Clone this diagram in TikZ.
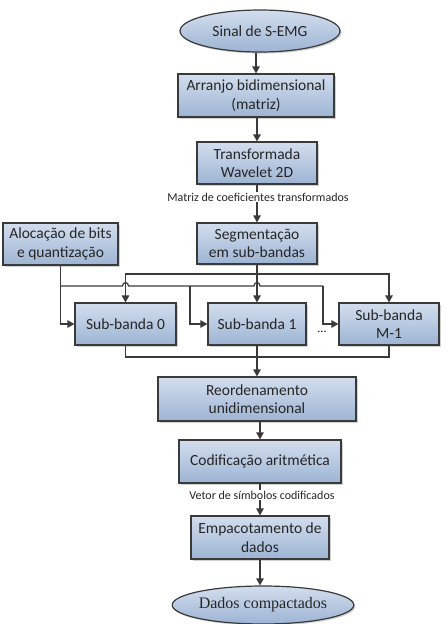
\documentclass[tikz,border=0pt]{standalone}
\usepackage{fontspec}
\setmainfont{Liberation Serif}
\setsansfont{Carlito}
\usetikzlibrary{arrows.meta,shapes.geometric,shadows}
\definecolor{boxtop}{HTML}{D3DEEE}
\definecolor{boxbot}{HTML}{9DB4D3}
\definecolor{edge}{HTML}{3A3A3A}
\tikzset{
  base/.style={draw=edge, line width=1.2pt, top color=boxtop, bottom color=boxbot,
    drop shadow={shadow xshift=1.6pt, shadow yshift=-1.6pt, fill=black!45, opacity=0.4},
    align=center, inner sep=0pt, text=black!85, font=\sffamily\fontsize{15.5}{18.5}\selectfont},
  procbox/.style={base, rectangle},
  termin/.style={base, ellipse},
  wire/.style={draw=edge, line width=1.2pt},
  arr/.style={wire, -{Triangle[length=7pt,width=7.5pt]}},
  lbl/.style={fill=white, inner sep=1pt, text=black!85, font=\sffamily\fontsize{12}{14}\selectfont}
}
\begin{document}
\begin{tikzpicture}[x=1pt,y=-1pt]
\useasboundingbox (0,0) rectangle (445,624);
% nodes
\node[termin, minimum width=160pt, minimum height=42pt] (sinal) at (260,31) {Sinal de S-EMG};
\node[procbox, minimum width=156pt, minimum height=43pt] (arr2d) at (256,95.5) {Arranjo bidimensional\\(matriz)};
\node[procbox, minimum width=120pt, minimum height=42pt] (transf) at (257,163) {Transformada\\Wavelet 2D};
\node[procbox, minimum width=120pt, minimum height=41pt] (seg) at (257,243.5) {Segmentação\\em sub-bandas};
\node[procbox, minimum width=115pt, minimum height=42pt] (aloc) at (60.5,244) {Alocação de bits\\e quantização};
\node[procbox, minimum width=101pt, minimum height=42pt] (sb0) at (125.5,324) {Sub-banda 0};
\node[procbox, minimum width=98pt, minimum height=42pt] (sb1) at (257,324) {Sub-banda 1};
\node[procbox, minimum width=100pt, minimum height=42pt] (sbM) at (389,324) {Sub-banda\\M-1};
\node[font=\sffamily\fontsize{12}{14}\selectfont, inner sep=0pt] (dots) at (322,332) {...};
\node[procbox, minimum width=198pt, minimum height=44pt] (reord) at (257,399) {Reordenamento\\unidimensional};
\node[procbox, minimum width=162pt, minimum height=43pt] (cod) at (260,461.5) {Codificação aritmética};
\node[procbox, minimum width=138pt, minimum height=43pt] (emp) at (260,537.5) {Empacotamento de\\dados};
\node[termin, minimum width=163pt, minimum height=38pt, font=\rmfamily\fontsize{16}{18}\selectfont] (dados) at (263,605) {Dados compactados};
% main chain
\draw[arr] (sinal.south -| arr2d.north) -- (arr2d.north);
\draw[arr] (transf.north |- arr2d.south) -- (transf.north);
\draw[arr] (transf.south) -- (seg.north);
\node[lbl] (lblA) at (258,197) {Matriz de coeficientes transformados};
% segmentation distribution
\coordinate (top) at (257,274);
\draw[wire] (seg.south) -- (seg.south |- top);
\draw[arr] (seg.south |- top) -| (sb0.north);
\draw[arr] (seg.south |- top) -| (sbM.north);
\draw[arr] (seg.south |- top) -- (sb1.north);
% allocation distribution with hops
\coordinate (lvl) at (0,286);
\coordinate (b1) at (190,286);
\coordinate (b2) at (323,286);
\draw[arr] (aloc.south) |- (sb0.west);
\draw[wire] (aloc.south |- lvl) -- (122.5,286) .. controls (122.5,281.5) and (128.5,281.5) .. (128.5,286)
  -- (254,286) .. controls (254,281.5) and (260,281.5) .. (260,286) -- (b2);
\draw[arr] (b1) |- (sb1.west);
\draw[arr] (b2) |- (sbM.west);
% merge
\coordinate (bot) at (257,357);
\draw[wire] (sb0.south) |- (bot) -| (sbM.south);
\draw[arr] (sb1.south) -- (reord.north);
\draw[arr] (cod.north |- reord.south) -- (cod.north);
\draw[arr] (cod.south) -- (emp.north);
\node[lbl] (lblB) at (262,495) {Vetor de símbolos codificados};
\draw[arr] (emp.south) -- (emp.south |- dados.north);
\end{tikzpicture}
\end{document}
